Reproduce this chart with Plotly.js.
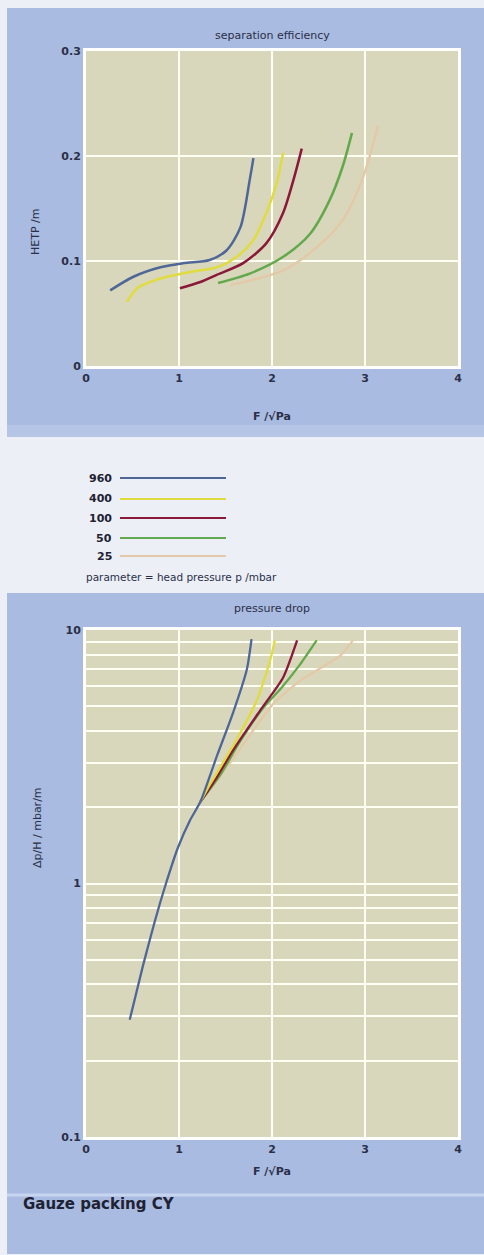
<!DOCTYPE html>
<html>
<head>
<meta charset="utf-8">
<script src="https://cdn.plot.ly/plotly-3.0.1.min.js"></script>
<style>html,body{margin:0;padding:0;background:#eceff6;}#chart{width:484px;height:1255px;}</style>
</head>
<body>
<div id="chart"></div>
<script>
// ---- data ----
const seriesNames = ["960", "400", "100", "50", "25"];
const seriesColors = ["#4f6797", "#e0dc40", "#8a1838", "#62a84c", "#e4c9a8"];

// separation efficiency: F-factor vs HETP
const effX960 = [0.26, 0.51, 0.80, 1.05, 1.33, 1.51, 1.66, 1.76, 1.80];
const effY960 = [0.072, 0.085, 0.094, 0.098, 0.101, 0.110, 0.132, 0.177, 0.198];
const effX400 = [0.44, 0.55, 0.69, 0.87, 1.15, 1.41, 1.62, 1.80, 1.94, 2.05, 2.12];
const effY400 = [0.061, 0.074, 0.080, 0.085, 0.090, 0.094, 0.104, 0.120, 0.146, 0.174, 0.203];
const effX100 = [1.01, 1.23, 1.41, 1.69, 1.94, 2.12, 2.23, 2.32];
const effY100 = [0.074, 0.080, 0.087, 0.098, 0.117, 0.146, 0.177, 0.207];
const effX50 = [1.42, 1.76, 2.12, 2.41, 2.62, 2.76, 2.86];
const effY50 = [0.079, 0.088, 0.104, 0.126, 0.158, 0.190, 0.222];
const effX25 = [1.55, 2.12, 2.48, 2.76, 2.98, 3.14];
const effY25 = [0.077, 0.091, 0.113, 0.139, 0.180, 0.229];

// pressure drop: F-factor vs dp/H (log)
const dpX960 = [0.47, 0.61, 0.74, 0.86, 0.99, 1.12, 1.23, 1.41, 1.58, 1.73, 1.78];
const dpY960 = [0.29, 0.47, 0.71, 1.0, 1.39, 1.78, 2.1, 3.2, 4.7, 7.0, 9.2];
const dpX400 = [1.23, 1.33, 1.62, 1.84, 1.98, 2.03];
const dpY400 = [2.1, 2.45, 3.7, 5.3, 7.6, 9.1];
const dpX100 = [1.23, 1.40, 1.58, 1.87, 2.12, 2.27];
const dpY100 = [2.1, 2.6, 3.35, 4.8, 6.5, 9.1];
const dpX50 = [1.23, 1.45, 1.65, 1.90, 2.10, 2.30, 2.48];
const dpY50 = [2.1, 2.7, 3.6, 4.9, 5.9, 7.3, 9.1];
const dpX25 = [1.23, 1.58, 2.01, 2.30, 2.73, 2.87];
const dpY25 = [2.1, 3.1, 5.1, 6.3, 7.9, 9.1];

const xTicks = [0, 1, 2, 3, 4];
const effTicks = [0, 0.1, 0.2, 0.3];
const effTickText = ["0", "0.1", "0.2", "0.3"];
const dpTicks = [0.1,0.2,0.3,0.4,0.5,0.6,0.7,0.8,0.9,1,2,3,4,5,6,7,8,9,10];
const dpTickText = ["0.1","","","","","","","","","1","","","","","","","","","10"];

// ---- layout helpers ----
const W = 484, H = 1255;
const px = x => x / W;
const py = y => 1 - y / H;

const effXs = [effX960, effX400, effX100, effX50, effX25];
const effYs = [effY960, effY400, effY100, effY50, effY25];
const dpXs = [dpX960, dpX400, dpX100, dpX50, dpX25];
const dpYs = [dpY960, dpY400, dpY100, dpY50, dpY25];

const traces = [];
for (let i = seriesNames.length - 1; i >= 0; i--) {
  traces.push({x: effXs[i], y: effYs[i], xaxis: 'x', yaxis: 'y', mode: 'lines',
    line: {color: seriesColors[i], width: 2.5, shape: 'spline', smoothing: 0.8},
    name: seriesNames[i], showlegend: false, hoverinfo: 'skip'});
}
for (let i = seriesNames.length - 1; i >= 0; i--) {
  traces.push({x: dpXs[i], y: dpYs[i], xaxis: 'x2', yaxis: 'y2', mode: 'lines',
    line: {color: seriesColors[i], width: 2.3, shape: 'spline', smoothing: 0.6},
    name: seriesNames[i], showlegend: false, hoverinfo: 'skip'});
}

const textColor = '#2b2f48';
const font = 'DejaVu Sans, sans-serif';
const grid = '#fffff4';
const plotBg = '#d8d7bb';
const panelBg = '#a9bbe0';

const axCommon = {
  showline: true, linecolor: '#ffffff', linewidth: 3, mirror: true,
  showgrid: true, gridcolor: grid, gridwidth: 2, zeroline: false,
  ticks: '', tickfont: {family: font, size: 11, color: textColor, weight: 'bold'},
  fixedrange: true
};

const layout = {
  width: W, height: H,
  margin: {l: 0, r: 0, t: 0, b: 0},
  paper_bgcolor: '#eceff6',
  plot_bgcolor: plotBg,
  showlegend: false,
  xaxis: Object.assign({}, axCommon, {domain: [px(86), px(458)], range: [0, 4],
    tickvals: xTicks, anchor: 'y'}),
  yaxis: Object.assign({}, axCommon, {domain: [py(366), py(51)], range: [0, 0.3],
    tickvals: effTicks, ticktext: effTickText, anchor: 'x'}),
  xaxis2: Object.assign({}, axCommon, {domain: [px(86), px(458)], range: [0, 4],
    tickvals: xTicks, anchor: 'y2'}),
  yaxis2: Object.assign({}, axCommon, {domain: [py(1137), py(630)], type: 'log', range: [-1, 1],
    tickvals: dpTicks, ticktext: dpTickText, anchor: 'x2'}),
  shapes: [
    // top panel
    {type: 'rect', xref: 'paper', yref: 'paper', x0: px(7), x1: 1, y0: py(437), y1: py(8),
      fillcolor: panelBg, line: {width: 0}, layer: 'below'},
    {type: 'rect', xref: 'paper', yref: 'paper', x0: px(7), x1: 1, y0: py(437), y1: py(425),
      fillcolor: '#b4c5e6', line: {width: 0}, layer: 'below'},
    // bottom panel
    {type: 'rect', xref: 'paper', yref: 'paper', x0: px(7), x1: 1, y0: py(1254), y1: py(593),
      fillcolor: panelBg, line: {width: 0}, layer: 'below'},
    {type: 'line', xref: 'paper', yref: 'paper', x0: px(7), x1: 1, y0: py(1195), y1: py(1195),
      line: {color: '#c8d5f0', width: 3}, layer: 'below'},
    // plot-area backgrounds (over the panels)
    {type: 'rect', xref: 'paper', yref: 'paper', x0: px(86), x1: px(458), y0: py(366), y1: py(51),
      fillcolor: plotBg, line: {width: 0}, layer: 'below'},
    {type: 'rect', xref: 'paper', yref: 'paper', x0: px(86), x1: px(458), y0: py(1137), y1: py(630),
      fillcolor: plotBg, line: {width: 0}, layer: 'below'}
  ],
  annotations: [
    {text: 'separation efficiency', xref: 'paper', yref: 'paper', x: px(272), y: py(27),
      showarrow: false, font: {family: font, size: 11, color: textColor}},
    {text: 'F /√Pa', xref: 'paper', yref: 'paper', x: px(272), y: py(408),
      showarrow: false, font: {family: font, size: 11, color: textColor, weight: 'bold'}},
    {text: 'HETP /m', xref: 'paper', yref: 'paper', x: px(27), y: py(206), textangle: -90,
      showarrow: false, font: {family: font, size: 11, color: textColor}},
    {text: 'pressure drop', xref: 'paper', yref: 'paper', x: px(272), y: py(608),
      showarrow: false, font: {family: font, size: 11, color: textColor}},
    {text: 'F /√Pa', xref: 'paper', yref: 'paper', x: px(272), y: py(1180),
      showarrow: false, font: {family: font, size: 11, color: textColor, weight: 'bold'}},
    {text: 'Δp/H / mbar/m', xref: 'paper', yref: 'paper', x: px(29), y: py(870), textangle: -90,
      showarrow: false, font: {family: font, size: 11, color: textColor}},
    {text: 'Gauze packing CY', xref: 'paper', yref: 'paper', x: px(21), y: py(1215), xanchor: 'left',
      showarrow: false, font: {family: font, size: 15, color: '#1e2233', weight: 'bold'}},
    {text: 'parameter = head pressure p /mbar', xref: 'paper', yref: 'paper', x: px(84), y: py(577),
      xanchor: 'left', showarrow: false, font: {family: font, size: 10.5, color: textColor}}
  ]
};

// legend rows (labels left of sample lines)
const legY = [478, 499, 518, 538, 556];
seriesNames.forEach((n, i) => {
  layout.annotations.push({text: n, xref: 'paper', yref: 'paper', x: px(114), y: py(legY[i]),
    xanchor: 'right', showarrow: false, font: {family: font, size: 11, color: '#1e2233', weight: 'bold'}});
  layout.shapes.push({type: 'line', xref: 'paper', yref: 'paper', x0: px(120), x1: px(226),
    y0: py(legY[i]), y1: py(legY[i]), line: {color: seriesColors[i], width: 2.2}});
});

Plotly.newPlot('chart', traces, layout, {staticPlot: true, displayModeBar: false});
</script>
</body>
</html>
